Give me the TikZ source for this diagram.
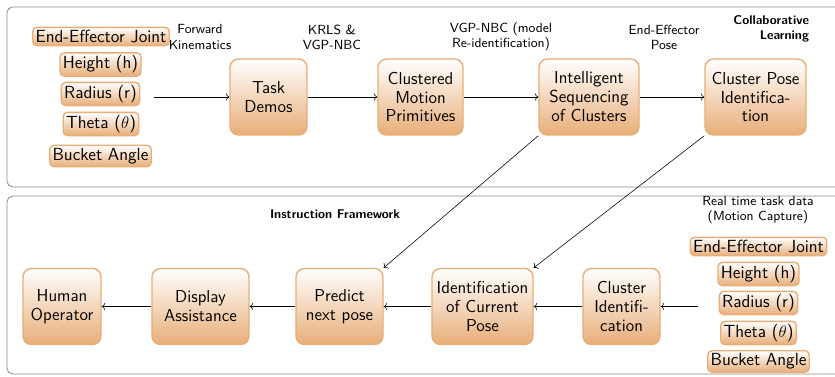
\documentclass[tikz,border=0pt]{standalone}
\usepackage{tikz}
\usetikzlibrary{arrows.meta}

\definecolor{boxorange}{RGB}{232,174,120}
\definecolor{framegray}{RGB}{140,140,140}

\begin{document}
\begin{tikzpicture}[x=0.025cm, y=-0.025cm,
		block/.style = {draw = boxorange, line width = 1pt, rounded corners = 6pt,
			top color = white, bottom color = boxorange, align = center,
			minimum height = 1.9cm, font = \sffamily\fontsize{12.3}{13.5}\selectfont},
		param/.style = {draw = boxorange, line width = 1pt, rounded corners = 3pt,
			top color = white, bottom color = boxorange, inner sep = 2pt,
			font = \sffamily\fontsize{12.5}{13.5}\selectfont},
		note/.style = {align = center, font = \sffamily\fontsize{9.4}{10.7}\selectfont},
		heading/.style = {font = \sffamily\bfseries\fontsize{9}{11}\selectfont}]

			\useasboundingbox (0,0) rectangle (835,376);

			% the two frames
			\draw[framegray, line width = 0.6pt, rounded corners = 4pt] (7,7) rectangle (850,187);
			\draw[framegray, line width = 0.6pt, rounded corners = 4pt] (7,196) rectangle (850,374);

			% collaborative learning
			\node[param] (lin1) at (101,36.5) {End-Effector Joint};
			\node[param] (lin2) at (100.5,64.5) {Height (h)};
			\node[param] (lin3) at (100.5,94) {Radius (r)};
			\node[param] (lin4) at (101,124) {Theta ($\theta$)};
			\node[param] (lin5) at (100.5,156) {Bucket Angle};
			\coordinate (lin) at (154,97);

			\node[block, minimum width = 1.925cm] (demos) at (268.5,97) {Task\\Demos};
			\node[block, minimum width = 2.125cm] (prims) at (420.5,97) {Clustered\\Motion\\Primitives};
			\node[block, minimum width = 2.5cm] (seq) at (589,97) {Intelligent\\Sequencing\\of Clusters};
			\node[block, minimum width = 2.525cm] (poseid) at (755.5,97) {Cluster Pose\\Identifica-\\tion};

			\node[note] (fk) at (200,37) {Forward\\Kinematics};
			\node[note] (krls) at (332,37) {KRLS \&\\VGP-NBC};
			\node[note] (reid) at (501,37) {VGP-NBC (model\\Re-identification)};
			\node[note] (eepose) at (664,37) {End-Effector\\Pose};
			\node[heading, align = right, anchor = east] (collab) at (814,29) {Collaborative\\Learning};

			% instruction framework
			\node[param] (rin1) at (758.5,246.5) {End-Effector Joint};
			\node[param] (rin2) at (758.5,274) {Height (h)};
			\node[param] (rin3) at (758.5,303) {Radius (r)};
			\node[param] (rin4) at (758.5,333) {Theta ($\theta$)};
			\node[param] (rin5) at (758.5,361.5) {Bucket Angle};
			\coordinate (rin) at (698,306.5);

			\node[block, minimum width = 1.95cm] (human) at (62,306.5) {Human\\Operator};
			\node[block, minimum width = 2.425cm] (display) at (200.5,306.5) {Display\\Assistance};
			\node[block, minimum width = 2.175cm] (predict) at (339.5,306.5) {Predict\\next pose};
			\node[block, minimum width = 2.525cm] (current) at (482.5,306.5) {Identification\\of Current\\Pose};
			\node[block, minimum width = 1.925cm] (clusterid) at (621.5,306.5) {Cluster\\Identifi-\\cation};

			\node[note] (rtdata) at (758,210) {Real time task data\\(Motion Capture)};
			\node[heading] (instr) at (335,214) {Instruction Framework};

			\begin{scope}[->]
				\draw (lin) -- (demos);
				\draw (demos) -- (prims);
				\draw (prims) -- (seq);
				\draw (seq) -- (poseid);

				\draw (rin) -- (clusterid);
				\draw (clusterid) -- (current);
				\draw (current) -- (predict);
				\draw (predict) -- (display);
				\draw (display) -- (human);

				\draw (seq.south west) -- (predict.north east);
				\draw (poseid.south west) -- (current.north east);
			\end{scope}
		\end{tikzpicture}
\end{document}
